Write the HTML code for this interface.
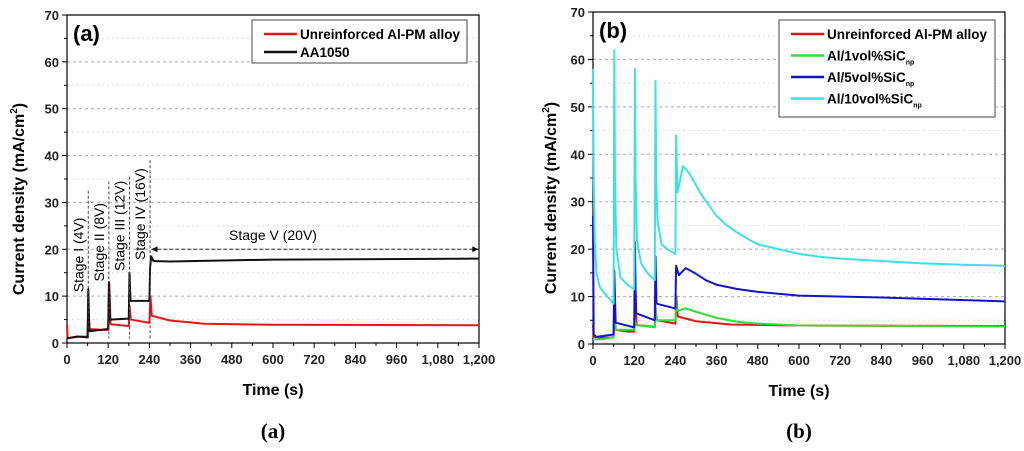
<!DOCTYPE html>
<html><head><meta charset="utf-8"><style>
body{margin:0;background:#fff;width:1024px;height:446px;overflow:hidden}
svg{font-family:"Liberation Sans",Arial,sans-serif}
</style></head><body>
<svg id="svg" width="1024" height="446" xmlns="http://www.w3.org/2000/svg"></svg>
<script>
const xTicks=[0,120,240,360,480,600,720,840,960,1080,1200];
const xTickLabels=["0","120","240","360","480","600","720","840","960","1,080","1,200"];
const yTicks=[0,10,20,30,40,50,60,70];
const redA=[[0,4],[2,1],[30,1.3],[60,1.4],[62,8],[66,3],[100,2.8],[120,2.8],[123,13],[127,4],[180,3.6],[182,8],[186,5],[240,4.3],[243,10],[247,5.8],[300,4.8],[400,4.1],[600,3.9],[1200,3.8]];
const blackA=[[0,1],[30,1.4],[60,1.2],[62,11.5],[65,2.5],[120,3],[122,13],[125,5],[180,5.2],[182,15],[185,9],[240,9],[242,16],[245,18.5],[252,17.5],[300,17.4],[600,17.8],[1200,18]];
const redB=[[0,4],[2,1.5],[30,1.3],[60,1.4],[62,8],[66,3],[100,2.6],[120,2.6],[123,13],[127,4],[180,3.6],[182,8],[186,5],[240,4.3],[243,10],[247,5.8],[300,4.8],[400,4.1],[600,3.9],[1200,3.8]];
const greenB=[[0,1],[30,1],[60,1.5],[62,12],[65,3],[120,3],[122,5],[125,4],[180,3.5],[182,8],[185,5],[240,5],[242,10],[245,7],[270,7.5],[300,6.8],[360,5.5],[420,4.7],[480,4.3],[600,3.9],[1200,3.7]];
const blueB=[[0,27],[2,2],[10,1.5],[60,2],[62,15.5],[66,4.5],[120,3.5],[122,21.5],[125,6.5],[180,5],[182,18.5],[185,8.5],[240,7.5],[242,16.5],[250,14.5],[270,16],[300,14.8],[330,13.4],[360,12.5],[420,11.6],[480,11],[600,10.2],[840,9.8],[1200,9]];
const cyanB=[[0,58],[2,35],[5,22],[10,15],[20,12],[30,11],[60,8.5],[62,62],[64,35],[68,20],[80,14],[100,12.5],[120,11.5],[122,58],[124,35],[128,22],[140,17],[160,14.8],[180,13.5],[182,55.5],[184,35],[188,26],[200,21],[220,19.8],[240,19],[242,44],[246,32],[252,34],[262,37.5],[280,36],[300,33.5],[320,31],[340,29],[360,27],[390,25],[420,23.5],[450,22.2],[480,21],[540,20],[600,19],[660,18.4],[720,18],[840,17.5],[960,17],[1080,16.7],[1200,16.5]];
const stageX=[62,122,182,242];
const stageTop=[32.5,34.5,35.5,39];
const stageMid=[18.8,21.5,25,27.5];
const stageLabels=["Stage I (4V)","Stage II (8V)","Stage III (12V)","Stage IV (16V)"];

const NS="http://www.w3.org/2000/svg";
const svg=document.getElementById('svg');
function el(t,a,p){const e=document.createElementNS(NS,t);for(const k in a)e.setAttribute(k,a[k]);(p||svg).appendChild(e);return e;}

function chart(P,name){
  const g=el('g',{});
  
  
  const X=t=>P.x0+(P.x1-P.x0)*t/1200, Y=v=>P.y0-(P.y0-P.y1)*v/70;
  for(let v=5;v<70;v+=5){
    const gl=el('line',{x1:P.x0,x2:P.x1,y1:Y(v),y2:Y(v),stroke:v%10?'#ddd':'#aaa','stroke-width':1,'stroke-dasharray':v%10?'2 3':'3 3'},g);
    
    
  }
  el('rect',{x:P.x0,y:P.y1,width:P.x1-P.x0,height:P.y0-P.y1,fill:'none',stroke:'#000','stroke-width':1.2},g);
  xTicks.forEach((t,i)=>{
    el('line',{x1:X(t),x2:X(t),y1:P.y0,y2:P.y0+5,stroke:'#000'},g);
    if(i<10) el('line',{x1:X(t+60),x2:X(t+60),y1:P.y0,y2:P.y0+3,stroke:'#000'},g);
    const tx=el('text',{x:X(t),y:P.y0+21,'font-size':13,'text-anchor':'middle','font-weight':'bold',fill:'#222'},g);
    tx.textContent=xTickLabels[i];
    
    
  });
  yTicks.forEach(v=>{
    el('line',{x1:P.x0-5,x2:P.x0,y1:Y(v),y2:Y(v),stroke:'#000'},g);
    if(v<70) el('line',{x1:P.x0-3,x2:P.x0,y1:Y(v+5),y2:Y(v+5),stroke:'#000'},g);
    const tx=el('text',{x:P.x0-8,y:Y(v)+5,'font-size':13,'text-anchor':'end','font-weight':'bold',fill:'#222'},g);
    tx.textContent=v;
    
    
  });
  P.series.forEach(s=>{
    const p=el('polyline',{points:s.d.map(q=>X(q[0])+','+Y(q[1])).join(' '),fill:'none',stroke:s.c,'stroke-width':2,'stroke-linejoin':'round'},g);
    
    
  });
  const xt=el('text',{x:(P.x0+P.x1)/2,y:P.y0+52,'font-size':16,'font-weight':'bold','text-anchor':'middle'},g);
  xt.textContent='Time (s)';
  
  
  const yt=el('text',{x:0,y:0,'font-size':16,'font-weight':'bold','text-anchor':'middle',transform:`translate(${P.yx},${(P.y0+P.y1)/2+20}) rotate(-90)`},g);
  yt.innerHTML='Current density (mA/cm<tspan dy="-7" font-size="10">2</tspan><tspan dy="7">)</tspan>';
  
  
  const pl=el('text',{x:P.x0+6,y:P.y1+26,'font-size':22,'font-weight':'bold'},g);
  pl.textContent=P.label;
  
  
  const cap=el('text',{x:(P.x0+P.x1)/2,y:438,'font-size':21,'font-weight':'bold','text-anchor':'middle','font-family':'Liberation Serif,serif'},g);
  cap.textContent=P.label;
  
  
  const L=P.legend;
  const lg=el('g',{},g);
  
  
  el('rect',{x:L.x,y:L.y,width:L.w,height:L.h,fill:'#fff',stroke:'#666','stroke-width':1.2},lg);
  P.series.forEach((s,i)=>{
    const yy=L.y+14+i*L.step;
    el('line',{x1:L.x+12,x2:L.x+45,y1:yy,y2:yy,stroke:s.c,'stroke-width':2.5},lg);
    const t=el('text',{x:L.x+48,y:yy+5,'font-size':13.5,'font-weight':'bold'},lg);
    t.innerHTML=s.l;
    
    
  });
  return {g,X,Y};
}
const A=chart({x0:67,x1:479,y0:343,y1:15,yx:24,label:'(a)',
  legend:{x:252,y:20,w:215,h:43,step:18},
  series:[{d:redA,c:'#e8141c',n:'series-unreinforced',l:'Unreinforced Al-PM alloy'},{d:blackA,c:'#111',n:'series-aa1050',l:'AA1050'}]},'chart-a');
stageX.forEach((t,i)=>{
  el('line',{x1:A.X(t),x2:A.X(t),y1:A.Y(stageTop[i]),y2:A.Y(1),stroke:'#444','stroke-dasharray':'3 2'},A.g);
  const cx=A.X(t)-10, cy=A.Y(stageMid[i]);
  const tx=el('text',{x:0,y:0,'font-size':14,'text-anchor':'middle',transform:`translate(${cx+5},${cy}) rotate(-90)`},A.g);
  tx.textContent=stageLabels[i];
  
  
});
el('line',{x1:A.X(246),x2:A.X(1198),y1:A.Y(20),y2:A.Y(20),stroke:'#333','stroke-dasharray':'4 2'},A.g);
el('path',{d:`M${A.X(246)},${A.Y(20)} l6,-3 v6 z M${A.X(1198)},${A.Y(20)} l-6,-3 v6 z`,fill:'#111'},A.g);
const sv=el('text',{x:A.X(600),y:A.Y(22),'font-size':14,'text-anchor':'middle'},A.g);
sv.textContent='Stage V (20V)';


chart({x0:593,x1:1005,y0:344,y1:12,yx:556,label:'(b)',
  legend:{x:779,y:20,w:216,h:97,step:21.5},
  series:[{d:redB,c:'#e8141c',n:'series-unreinforced',l:'Unreinforced Al-PM alloy'},
   {d:greenB,c:'#33dd33',n:'series-1vol',l:'Al/1vol%SiC<tspan dy="4" font-size="7">np</tspan>'},
   {d:blueB,c:'#1414c8',n:'series-5vol',l:'Al/5vol%SiC<tspan dy="4" font-size="7">np</tspan>'},
   {d:cyanB,c:'#3ee0e8',n:'series-10vol',l:'Al/10vol%SiC<tspan dy="4" font-size="7">np</tspan>'}]},'chart-b');
</script>
</body></html>
